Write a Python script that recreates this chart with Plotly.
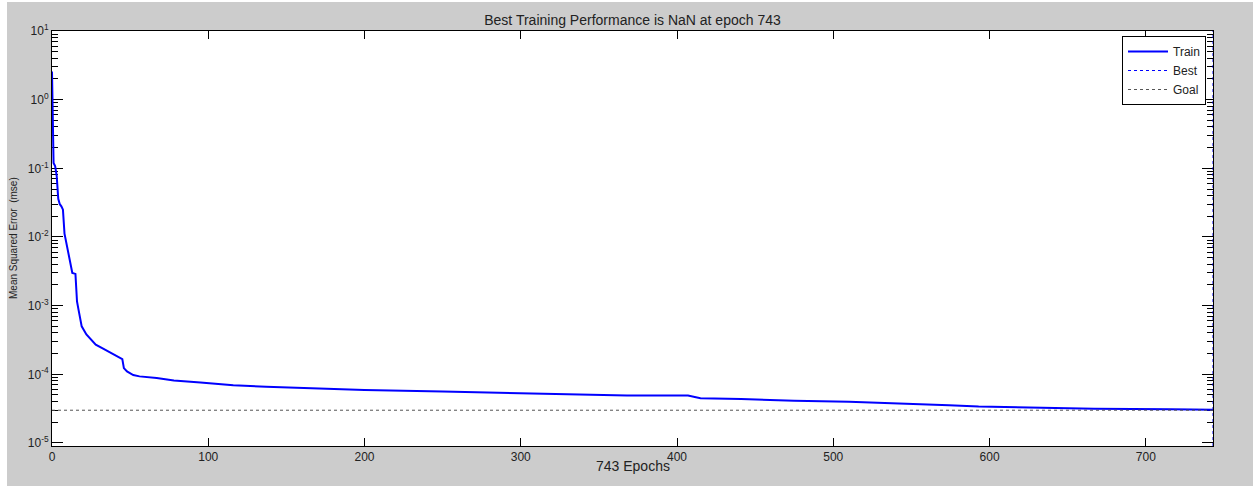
import plotly.graph_objects as go

# ---- data ----
epochs = [0, 1, 2, 3, 4, 5, 6, 7, 8, 10, 12, 13, 15, 16, 17, 19, 22, 24, 28, 33, 38,
          44, 45, 46, 48, 52, 56, 67, 78, 95, 105, 116, 137, 159, 200, 250, 287, 315,
          368, 407, 415, 441, 475, 510, 543, 574, 593, 629, 667, 716, 743]
train_mse = [2.57, 0.120, 0.108, 0.078, 0.036, 0.030, 0.028, 0.025, 0.0112, 0.0065,
             0.0042, 0.0030, 0.0029, 0.00115, 0.00087, 0.00050, 0.00038, 0.00034,
             0.00027, 0.000234, 0.000204, 0.000174, 0.000166, 0.000123, 0.000110,
             0.0000977, 0.0000933, 0.0000881, 0.0000813, 0.0000759, 0.0000724,
             0.0000692, 0.0000661, 0.0000631, 0.0000589, 0.0000562, 0.0000537,
             0.0000513, 0.0000490, 0.0000490, 0.0000447, 0.0000437, 0.0000412,
             0.0000398, 0.0000380, 0.0000355, 0.0000339, 0.0000324, 0.0000316,
             0.0000309, 0.0000305]
best_epoch = 743
goal = 3.0e-5
n_epochs = 743
y_limits = [1e-5 * 10 ** -0.044, 10.0]

x_tick_vals = [0, 100, 200, 300, 400, 500, 600, 700]
y_tick_vals = [1e-5, 1e-4, 1e-3, 1e-2, 1e-1, 1e0, 1e1]
y_tick_text = ["10<sup>-5</sup>", "10<sup>-4</sup>", "10<sup>-3</sup>", "10<sup>-2</sup>",
               "10<sup>-1</sup>", "10<sup>0</sup>", "10<sup>1</sup>"]

title_text = "Best Training Performance is NaN at epoch 743"
x_title = "743 Epochs"
y_title = "Mean Squared Error  (mse)"

FONT = "Liberation Sans, Arial, sans-serif"
TXT = "#222222"

# figure sits at page offset (7, 2); plot area spans page x 52..1213, y 31..446
FIG_W, FIG_H = 1246, 484
L, R, T, B = 45, 40, 29, 40
PW, PH = FIG_W - L - R, FIG_H - T - B

fig = go.Figure()
fig.add_trace(go.Scatter(x=epochs, y=train_mse, mode="lines", name="Train",
                         line=dict(color="#0000ff", width=2)))
fig.add_trace(go.Scatter(x=[best_epoch, best_epoch], y=y_limits, mode="lines",
                         name="Best", line=dict(color="#0000ff", width=1, dash="3px,3px")))
fig.add_trace(go.Scatter(x=[0, n_epochs], y=[goal, goal], mode="lines", name="Goal",
                         line=dict(color="#555555", width=1, dash="3px,3px")))

fig.update_layout(
    width=FIG_W, height=FIG_H,
    margin=dict(l=L, r=R, t=T, b=B, pad=0),
    paper_bgcolor="#cccccc",
    plot_bgcolor="#ffffff",
    font=dict(family=FONT, size=12, color=TXT),
    title=dict(text=title_text, x=0.5, xanchor="center", xref="paper",
               y=1 - 18 / FIG_H, yref="container", yanchor="middle",
               font=dict(family=FONT, size=14, color=TXT)),
    showlegend=True,
    legend=dict(x=(1206 - 52) / PW, y=1 - (36 - 31) / PH, xanchor="right", yanchor="top",
                bgcolor="#ffffff", bordercolor="#000000", borderwidth=1,
                font=dict(family=FONT, size=12, color=TXT),
                tracegroupgap=0, itemwidth=40),
    xaxis=dict(range=[0, n_epochs], tickvals=x_tick_vals, ticks="inside", ticklen=8,
               tickcolor="#000000", showline=True, linecolor="#000000", linewidth=1,
               mirror="ticks", showgrid=False, zeroline=False, layer="below traces",
               tickfont=dict(size=12)),
    yaxis=dict(type="log", range=[-5.044, 1.0], tickvals=y_tick_vals, ticktext=y_tick_text,
               ticks="inside", ticklen=11, tickcolor="#000000", showline=True,
               linecolor="#000000", linewidth=1, mirror="ticks", showgrid=False,
               zeroline=False, layer="below traces", tickfont=dict(size=12),
               minor=dict(ticks="inside", ticklen=6, tickcolor="#000000", dtick="D1",
                          showgrid=False)),
)

# x-axis title
fig.add_annotation(text=x_title, xref="paper", yref="paper", x=0.5,
                   y=(T + PH - 464) / PH, showarrow=False,
                   xanchor="center", yanchor="middle",
                   font=dict(family=FONT, size=14, color=TXT))

# y-axis title at the far left of the grey frame
fig.add_annotation(text=y_title, xref="paper", yref="paper", x=(7 - L) / PW,
                   y=(T + PH - 236) / PH, textangle=-90, showarrow=False,
                   xanchor="center", yanchor="middle",
                   font=dict(family=FONT, size=10, color=TXT))

fig.write_html("out.html",
               post_script="document.body.style.margin='2px 0 0 7px';"
                           "document.body.style.background='#ffffff';")
